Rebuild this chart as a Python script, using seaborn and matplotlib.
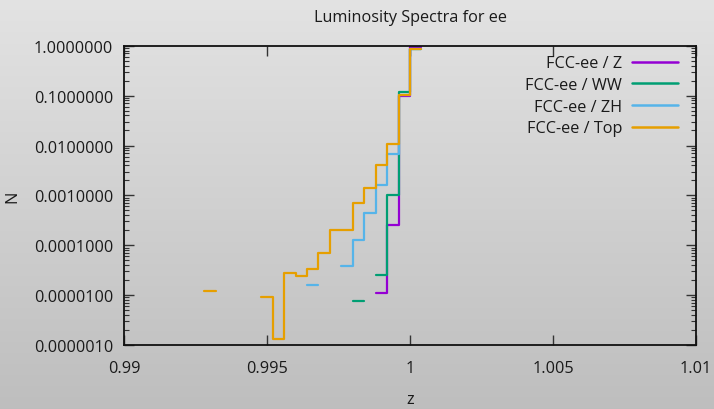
import numpy as np
import pandas as pd
import matplotlib
matplotlib.use("Agg")
import matplotlib.pyplot as plt
import matplotlib.ticker as mticker
from matplotlib.lines import Line2D
import seaborn as sns

nan = np.nan

# Bin left edges (bin width 0.0004) and the final right edge
bin_left = [0.9928, 0.9932, 0.9936, 0.9940, 0.9944, 0.9948, 0.9952, 0.9956,
            0.9960, 0.9964, 0.9968, 0.9972, 0.9976, 0.9980, 0.9984, 0.9988,
            0.9992, 0.9996, 1.0000]
last_edge = 1.0004

series_names = ["FCC-ee / Z", "FCC-ee / WW", "FCC-ee / ZH", "FCC-ee / Top"]
series_colors = ["#9400d3", "#009e73", "#56b4e9", "#e69f00"]

n_Z = [nan, nan, nan, nan, nan, nan, nan, nan, nan, nan, nan, nan, nan, nan,
       nan, 1.12e-5, 2.5e-4, 0.098, 0.955]
n_WW = [nan, nan, nan, nan, nan, nan, nan, nan, nan, nan, nan, nan, nan, 7.5e-6,
        nan, 2.5e-5, 1.03e-3, 0.12, 0.87]
n_ZH = [nan, nan, nan, nan, nan, nan, nan, nan, nan, 1.6e-5, nan, nan, 3.79e-5,
        1.29e-4, 4.5e-4, 1.64e-3, 6.65e-3, 0.103, 0.88]
n_Top = [1.21e-5, nan, nan, nan, nan, 9.3e-6, 1.35e-6, 2.79e-5, 2.46e-5, 3.4e-5,
         6.9e-5, 2.0e-4, 2.06e-4, 7.05e-4, 1.41e-3, 4.12e-3, 1.06e-2, 0.101, 0.86]
series_values = [n_Z, n_WW, n_ZH, n_Top]

x_ticks = [0.99, 0.995, 1.0, 1.005, 1.01]
y_ticks = [1e-6, 1e-5, 1e-4, 1e-3, 1e-2, 1e-1, 1.0]


def step_frame(values):
    """Split a binned series into contiguous runs for steps-post drawing."""
    edges = list(bin_left) + [last_edge]
    rows = []
    run = 0
    i = 0
    n = len(values)
    while i < n:
        if np.isnan(values[i]):
            i += 1
            continue
        j = i
        while j < n and not np.isnan(values[j]):
            rows.append((edges[j], values[j], run))
            j += 1
        rows.append((edges[j], values[j - 1], run))
        run += 1
        i = j
    return pd.DataFrame(rows, columns=["z", "N", "run"])


sns.set_theme(style="ticks")
plt.rcParams["font.family"] = ["Open Sans", "DejaVu Sans"]
plt.rcParams["text.color"] = "#1a1a1a"
plt.rcParams["axes.labelcolor"] = "#1a1a1a"
plt.rcParams["xtick.color"] = "#1a1a1a"
plt.rcParams["ytick.color"] = "#1a1a1a"

FS = 11.7

fig = plt.figure(figsize=(7.14, 4.10), dpi=100)

# gradient background
bg = fig.add_axes([0, 0, 1, 1], zorder=-10)
grad = np.linspace(0, 1, 256).reshape(-1, 1)
top_c = np.array([0.89, 0.89, 0.89])
bot_c = np.array([0.745, 0.745, 0.745])
img = top_c[None, None, :] * (1 - grad[:, :, None]) + bot_c[None, None, :] * grad[:, :, None]
bg.imshow(img, aspect="auto", extent=[0, 1, 0, 1], origin="upper")
bg.set_axis_off()

ax = fig.add_axes([0.1737, 0.156, 0.8011, 0.730])
ax.set_facecolor("none")

for name, color, vals in zip(series_names, series_colors, series_values):
    df = step_frame(vals)
    sns.lineplot(data=df, x="z", y="N", units="run", estimator=None, sort=False,
                 color=color, drawstyle="steps-post", lw=1.6, ax=ax, legend=False)

ax.set_yscale("log")
ax.set_xlim(0.99, 1.01)
ax.set_ylim(1e-6, 1.0)
ax.set_xticks(x_ticks)
ax.xaxis.set_major_formatter(mticker.FuncFormatter(lambda v, p: "%g" % round(v, 6)))
ax.set_yticks(y_ticks)
ax.yaxis.set_major_formatter(mticker.FuncFormatter(lambda v, p: "%.7f" % v))
ax.yaxis.set_minor_locator(mticker.LogLocator(base=10, subs=np.arange(2, 10), numticks=20))
ax.yaxis.set_minor_formatter(mticker.NullFormatter())
ax.xaxis.set_minor_locator(mticker.NullLocator())

ax.tick_params(which="major", direction="in", top=True, right=True, length=7,
               width=1.0, labelsize=FS, color="#333333")
ax.tick_params(axis="x", which="major", pad=11)
ax.tick_params(axis="y", which="major", pad=8)
ax.tick_params(which="minor", direction="in", left=True, right=True, length=3.5,
               width=0.8, color="#333333")
for sp in ax.spines.values():
    sp.set_visible(True)
    sp.set_linewidth(1.3)
    sp.set_color("#111111")

ax.set_xlabel("z", fontsize=FS)
ax.xaxis.set_label_coords(0.5, -0.155)
ax.set_ylabel("N", fontsize=FS)
ax.yaxis.set_label_coords(-0.182, 0.5)
ax.set_title("Luminosity Spectra for ee", fontsize=FS, pad=18)

handles = [Line2D([], [], color=c, lw=1.8) for c in series_colors]
leg = ax.legend(handles, series_names, loc="upper right", frameon=False,
                markerfirst=False, fontsize=FS, handlelength=2.83,
                handletextpad=0.62, labelspacing=0.35,
                bbox_to_anchor=(0.98, 0.99), borderaxespad=0.0)

fig.savefig("out.png", dpi=100)
